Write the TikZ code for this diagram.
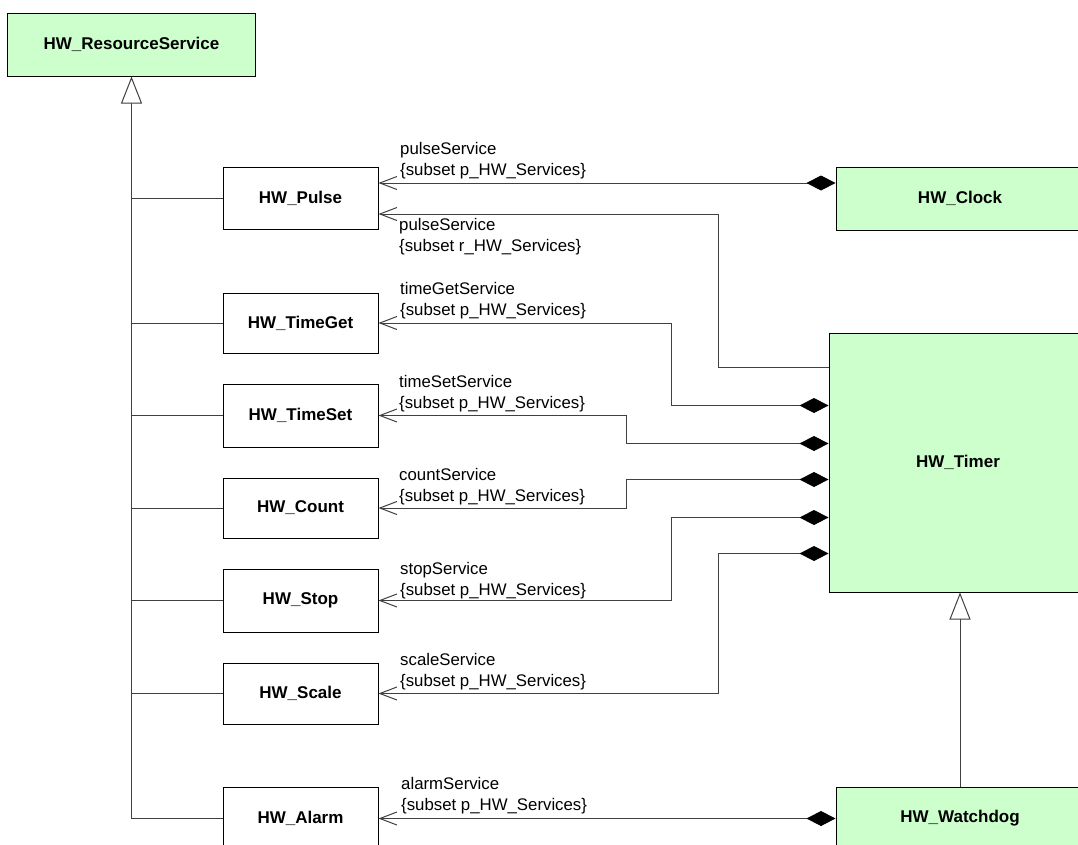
\documentclass[tikz,border=0pt]{standalone}
\usepackage{fontspec}
\setmainfont{Liberation Sans}
\usetikzlibrary{arrows.meta,calc}
\definecolor{umlgreen}{HTML}{CCFFCC}
\definecolor{lnc}{HTML}{404040}
\begin{document}
\begin{tikzpicture}[x=1pt,y=-1pt,
  cls/.style={draw=black, line width=1pt, inner sep=0pt, font=\bfseries\fontsize{17}{20}\selectfont, minimum width=155pt, fill=white},
  grn/.style={cls, fill=umlgreen, minimum width=248pt, minimum height=63pt},
  lbl/.style={inner sep=0pt, align=left, font=\fontsize{16.8}{21}\selectfont},
  conn/.style={draw=lnc, line width=1pt},
  nav/.style={conn, -{Straight Barb[length=17pt,width=13pt]}},
  comp/.style={conn, {Diamond[length=29pt,width=15pt,color=black,fill=black]}-{Straight Barb[length=17pt,width=13pt]}},
  gen/.style={conn, -{Triangle[open,fill=white,length=27pt,width=21pt]}}
]
\useasboundingbox (0,0) rectangle (1078,844);
\fill[white] (0,0) rectangle (1078,844);
\clip (0,0) rectangle (1078,844);

% classes
\node[grn] (RS) at (131.5,44.5) {HW\_ResourceService};
\node[cls, minimum height=62pt] (Pulse) at (300.5,198) {HW\_Pulse};
\node[cls, minimum height=60pt] (TimeGet) at (300.5,323) {HW\_TimeGet};
\node[cls, minimum height=63pt] (TimeSet) at (300.5,415.5) {HW\_TimeSet};
\node[cls, minimum height=60pt] (Count) at (300.5,508) {HW\_Count};
\node[cls, minimum height=63pt] (Stop) at (300.5,600.5) {HW\_Stop};
\node[cls, minimum height=61pt] (Scale) at (300.5,693.5) {HW\_Scale};
\node[cls, minimum height=63pt] (Alarm) at (300.5,818.5) {HW\_Alarm};
\node[grn] (Clock) at (960,198.5) {HW\_Clock};
\node[grn, minimum width=258pt, minimum height=259pt] (Timer) at (958,462.5) {HW\_Timer};
\node[grn] (Watchdog) at (960,818.5) {HW\_Watchdog};

% generalizations
\draw[gen] (Alarm.west) -| (RS.south);
\foreach \n in {Pulse,TimeGet,TimeSet,Count,Stop,Scale}
  \draw[conn] (\n.west) -- (\n.west -| RS.south);
\draw[gen] (Watchdog.north) -- (Watchdog.north |- Timer.south);

% helper coordinates
\coordinate (cA) at (718,0);
\coordinate (cB) at (671,0);
\coordinate (cC) at (626,0);
\coordinate (tp0) at ([yshift=-35pt]Timer.north west);
\coordinate (tp1) at ([yshift=-73pt]Timer.north west);
\coordinate (tp2) at ([yshift=-111pt]Timer.north west);
\coordinate (tp3) at ([yshift=-147pt]Timer.north west);
\coordinate (tp4) at ([yshift=-185pt]Timer.north west);
\coordinate (tp5) at ([yshift=-221pt]Timer.north west);
\coordinate (ck) at ([yshift=15.5pt]Clock.west);
\coordinate (pr) at ([yshift=-16pt]Pulse.east);

% associations
\draw[comp] (ck) -- (ck -| Pulse.east);
\draw[nav] (tp0) -| (cA |- pr) -- (pr);
\draw[comp] (tp1) -| (cB |- TimeGet.east) -- (TimeGet.east);
\draw[comp] (tp2) -| (cC |- TimeSet.east) -- (TimeSet.east);
\draw[comp] (tp3) -| (cC |- Count.east) -- (Count.east);
\draw[comp] (tp4) -| (cB |- Stop.east) -- (Stop.east);
\draw[comp] (tp5) -| (cA |- Scale.east) -- (Scale.east);
\draw[comp] (Watchdog.west) -- (Alarm.east);

% labels
\node[lbl, anchor=south west] (lP) at (400,179) {pulseService\\\{subset p\_HW\_Services\}};
\node[lbl, anchor=north west] (lR) at (399,218) {pulseService\\\{subset r\_HW\_Services\}};
\node[lbl, anchor=south west] (lTG) at (400,319) {timeGetService\\\{subset p\_HW\_Services\}};
\node[lbl, anchor=south west] (lTS) at (399,412) {timeSetService\\\{subset p\_HW\_Services\}};
\node[lbl, anchor=south west] (lC) at (399,505) {countService\\\{subset p\_HW\_Services\}};
\node[lbl, anchor=south west] (lS) at (400,599) {stopService\\\{subset p\_HW\_Services\}};
\node[lbl, anchor=south west] (lSc) at (400,690) {scaleService\\\{subset p\_HW\_Services\}};
\node[lbl, anchor=south west] (lA) at (401,814) {alarmService\\\{subset p\_HW\_Services\}};
\end{tikzpicture}
\end{document}
